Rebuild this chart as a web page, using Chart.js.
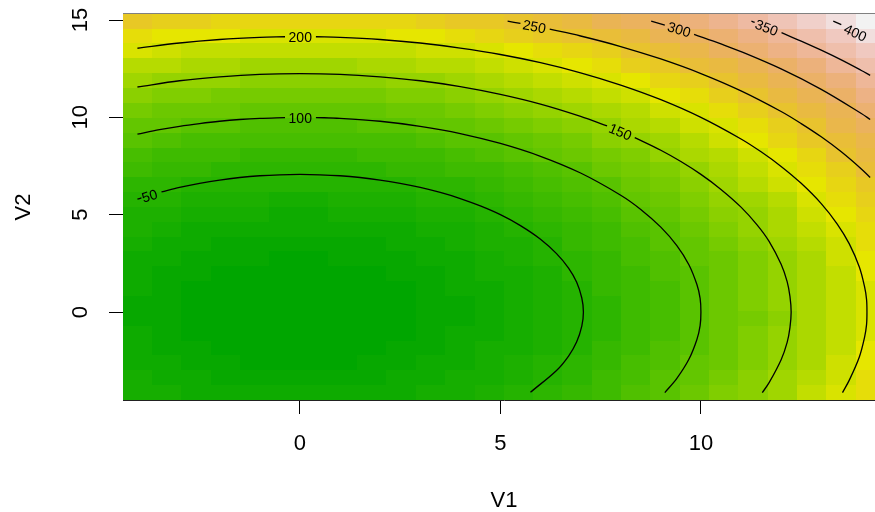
<!DOCTYPE html>
<html>
<head>
<meta charset="utf-8">
<title>V1 V2 contour</title>
<script src="https://cdn.jsdelivr.net/npm/chart.js@4"></script>
<style>
html, body { margin: 0; padding: 0; background: #fff; overflow: hidden; }
canvas { display: block; }
</style>
</head>
<body>
<canvas id="plot" width="885" height="512"></canvas>
<script>
const xTicks = [0, 5, 10];
const yTicks = [0, 5, 10, 15];

// centres of the image cells, left to right and bottom to top
const cellX = [-4.05, -3.32, -2.59, -1.86, -1.13, -0.40, 0.33, 1.06, 1.79, 2.53, 3.26, 3.99, 4.72, 5.45, 6.18, 6.91, 7.64, 8.37, 9.10, 9.84, 10.57, 11.30, 12.03, 12.76, 13.49, 14.22];
const cellY = [-4.14, -3.38, -2.61, -1.85, -1.09, -0.33, 0.44, 1.20, 1.96, 2.73, 3.49, 4.25, 5.02, 5.78, 6.54, 7.31, 8.07, 8.83, 9.60, 10.36, 11.12, 11.89, 12.65, 13.41, 14.18, 14.94];

// one row per cellY
const cellValues = [
  [33.5, 28.1, 23.8, 20.6, 18.4, 17.3, 17.2, 18.2, 20.3, 23.5, 27.7, 33.0, 39.4, 46.8, 55.3, 64.8, 75.5, 87.2, 99.9, 113.9, 128.8, 144.8, 161.8, 179.9, 199.1, 219.3],
  [27.8, 22.4, 18.1, 14.9, 12.7, 11.6, 11.5, 12.5, 14.6, 17.8, 22.0, 27.3, 33.7, 41.1, 49.6, 59.1, 69.8, 81.5, 94.2, 108.2, 123.1, 139.1, 156.1, 174.2, 193.4, 213.6],
  [23.2, 17.8, 13.5, 10.3, 8.1, 7.0, 6.9, 7.9, 10.0, 13.2, 17.4, 22.7, 29.1, 36.5, 45.0, 54.5, 65.2, 76.9, 89.6, 103.6, 118.5, 134.5, 151.5, 169.6, 188.8, 209.0],
  [19.8, 14.4, 10.1, 6.9, 4.7, 3.6, 3.5, 4.5, 6.6, 9.8, 14.0, 19.3, 25.7, 33.1, 41.6, 51.1, 61.8, 73.5, 86.2, 100.2, 115.1, 131.1, 148.1, 166.2, 185.4, 205.6],
  [17.6, 12.2, 7.9, 4.7, 2.5, 1.4, 1.3, 2.3, 4.4, 7.6, 11.8, 17.1, 23.5, 30.9, 39.4, 48.9, 59.6, 71.3, 84.0, 98.0, 112.9, 128.9, 145.9, 164.0, 183.2, 203.4],
  [16.5, 11.1, 6.8, 3.6, 1.4, 0.3, 0.2, 1.2, 3.3, 6.5, 10.7, 16.0, 22.4, 29.8, 38.3, 47.8, 58.5, 70.2, 82.9, 96.9, 111.8, 127.7, 144.8, 162.9, 182.1, 202.3],
  [16.6, 11.2, 6.9, 3.7, 1.5, 0.4, 0.3, 1.3, 3.4, 6.6, 10.8, 16.1, 22.5, 29.9, 38.4, 47.9, 58.6, 70.3, 83.0, 97.0, 111.9, 127.9, 144.9, 163.0, 182.2, 202.4],
  [17.8, 12.4, 8.1, 4.9, 2.7, 1.6, 1.5, 2.5, 4.6, 7.8, 12.0, 17.3, 23.7, 31.1, 39.6, 49.1, 59.8, 71.5, 84.2, 98.2, 113.1, 129.1, 146.1, 164.2, 183.4, 203.6],
  [20.2, 14.8, 10.5, 7.3, 5.1, 4.0, 3.9, 4.9, 7.0, 10.2, 14.4, 19.7, 26.1, 33.5, 42.0, 51.5, 62.2, 73.9, 86.6, 100.6, 115.5, 131.5, 148.5, 166.6, 185.8, 206.0],
  [23.9, 18.5, 14.2, 11.0, 8.8, 7.7, 7.6, 8.6, 10.7, 13.9, 18.1, 23.4, 29.8, 37.2, 45.7, 55.2, 65.9, 77.6, 90.3, 104.3, 119.2, 135.2, 152.2, 170.3, 189.5, 209.7],
  [28.6, 23.2, 18.9, 15.7, 13.5, 12.4, 12.3, 13.3, 15.4, 18.6, 22.8, 28.1, 34.5, 41.9, 50.4, 59.9, 70.6, 82.3, 95.0, 109.0, 123.9, 139.9, 156.9, 175.0, 194.2, 214.4],
  [34.5, 29.1, 24.8, 21.6, 19.4, 18.3, 18.2, 19.2, 21.3, 24.5, 28.7, 34.0, 40.4, 47.8, 56.3, 65.8, 76.5, 88.2, 100.9, 114.9, 129.8, 145.8, 162.8, 180.9, 200.1, 220.3],
  [41.6, 36.2, 31.9, 28.7, 26.5, 25.4, 25.3, 26.3, 28.4, 31.6, 35.8, 41.1, 47.5, 54.9, 63.4, 72.9, 83.6, 95.3, 108.0, 122.0, 136.9, 152.9, 169.9, 188.0, 207.2, 227.4],
  [49.8, 44.4, 40.1, 36.9, 34.7, 33.6, 33.5, 34.5, 36.6, 39.8, 44.0, 49.3, 55.7, 63.1, 71.6, 81.1, 91.8, 103.5, 116.2, 130.2, 145.1, 161.1, 178.1, 196.2, 215.4, 235.6],
  [59.2, 53.8, 49.5, 46.3, 44.1, 43.0, 42.9, 43.9, 46.0, 49.2, 53.4, 58.7, 65.1, 72.5, 81.0, 90.5, 101.2, 112.9, 125.6, 139.6, 154.5, 170.5, 187.5, 205.6, 224.8, 245.0],
  [69.8, 64.4, 60.1, 56.9, 54.7, 53.6, 53.5, 54.5, 56.6, 59.8, 64.0, 69.3, 75.7, 83.1, 91.6, 101.1, 111.8, 123.5, 136.2, 150.2, 165.1, 181.1, 198.1, 216.2, 235.4, 255.6],
  [81.5, 76.1, 71.8, 68.6, 66.4, 65.3, 65.2, 66.2, 68.3, 71.5, 75.7, 81.0, 87.4, 94.8, 103.3, 112.8, 123.5, 135.2, 147.9, 161.9, 176.8, 192.8, 209.8, 227.9, 247.1, 267.3],
  [94.4, 89.0, 84.7, 81.5, 79.3, 78.2, 78.1, 79.1, 81.2, 84.4, 88.6, 93.9, 100.3, 107.7, 116.2, 125.7, 136.4, 148.1, 160.8, 174.8, 189.7, 205.7, 222.7, 240.8, 260.0, 280.2],
  [108.6, 103.2, 98.9, 95.7, 93.5, 92.4, 92.3, 93.3, 95.4, 98.6, 102.8, 108.1, 114.5, 121.9, 130.4, 139.9, 150.6, 162.3, 175.0, 189.0, 203.9, 219.9, 236.9, 255.0, 274.2, 294.4],
  [123.7, 118.3, 114.0, 110.8, 108.6, 107.5, 107.4, 108.4, 110.5, 113.7, 117.9, 123.2, 129.6, 137.0, 145.5, 155.0, 165.7, 177.4, 190.1, 204.1, 219.0, 235.0, 252.0, 270.1, 289.3, 309.5],
  [140.1, 134.7, 130.4, 127.2, 125.0, 123.9, 123.8, 124.8, 126.9, 130.1, 134.3, 139.6, 146.0, 153.4, 161.9, 171.4, 182.1, 193.8, 206.5, 220.5, 235.4, 251.4, 268.4, 286.5, 305.7, 325.9],
  [157.8, 152.4, 148.1, 144.9, 142.7, 141.6, 141.5, 142.5, 144.6, 147.8, 152.0, 157.3, 163.7, 171.1, 179.6, 189.1, 199.8, 211.5, 224.2, 238.2, 253.1, 269.1, 286.1, 304.2, 323.4, 343.6],
  [176.4, 171.0, 166.7, 163.5, 161.3, 160.2, 160.1, 161.1, 163.2, 166.4, 170.6, 175.9, 182.3, 189.7, 198.2, 207.7, 218.4, 230.1, 242.8, 256.8, 271.7, 287.7, 304.7, 322.8, 342.0, 362.2],
  [196.2, 190.8, 186.5, 183.3, 181.1, 180.0, 179.9, 180.9, 183.0, 186.2, 190.4, 195.7, 202.1, 209.5, 218.0, 227.5, 238.2, 249.9, 262.6, 276.6, 291.5, 307.5, 324.5, 342.6, 361.8, 382.0],
  [217.5, 212.1, 207.8, 204.6, 202.4, 201.3, 201.2, 202.2, 204.3, 207.5, 211.7, 217.0, 223.4, 230.8, 239.3, 248.8, 259.5, 271.2, 283.9, 297.9, 312.8, 328.8, 345.8, 363.9, 383.1, 403.3],
  [239.6, 234.2, 230.1, 226.7, 224.5, 223.4, 223.3, 224.3, 226.4, 229.6, 233.8, 239.1, 245.5, 252.9, 261.4, 270.9, 281.6, 293.3, 306.0, 320.0, 334.9, 350.9, 367.9, 386.0, 405.2, 425.4]
];

// contour lines, null = gap left for the label
const line50X = [-4.05, -3.95, null, -3.45, -3, -2.5, -2, -1.5, -1, -0.5, 0, 0.5, 1, 1.5, 2, 2.5, 3, 3.5, 4, 4.5, 5, 5.5, 6, 6.4, 6.7, 6.9, 7.03, 7.07, 7.03, 6.9, 6.7, 6.4, 5.75];
const line50Y = [5.80, 5.86, null, 6.17, 6.40, 6.61, 6.78, 6.91, 7.00, 7.05, 7.07, 7.05, 7.00, 6.91, 6.78, 6.61, 6.40, 6.14, 5.83, 5.45, 5.00, 4.44, 3.74, 3.00, 2.26, 1.54, 0.72, 0, -0.72, -1.54, -2.26, -3.00, -4.12];
const line100X = [-4.05, -3.5, -3, -2.5, -2, -1.5, -1, -0.37, null, 0.4, 1, 2, 3, 4, 5, 6, 7, 8, 8.5, 9, 9.4, 9.7, 9.9, 9.98, 10, 9.98, 9.9, 9.7, 9.4, 9.1];
const line100Y = [9.14, 9.37, 9.54, 9.68, 9.80, 9.89, 9.95, 9.99, null, 9.99, 9.95, 9.80, 9.54, 9.17, 8.66, 8.00, 7.14, 6.00, 5.27, 4.36, 3.41, 2.43, 1.41, 0.7, 0, -0.7, -1.41, -2.43, -3.41, -4.14];
const line150X = [-4.05, -3, -2, -1, 0, 1, 2, 3, 4, 5, 6, 7, 7.66, null, 8.35, 9, 9.5, 10, 10.5, 11, 11.4, 11.7, 12, 12.15, 12.22, 12.25, 12.22, 12.15, 12, 11.7, 11.53];
const line150Y = [11.56, 11.88, 12.08, 12.21, 12.25, 12.21, 12.08, 11.88, 11.58, 11.18, 10.68, 10.05, 9.56, null, 8.96, 8.31, 7.73, 7.07, 6.30, 5.39, 4.48, 3.63, 2.45, 1.56, 0.8, 0, -0.8, -1.56, -2.45, -3.63, -4.14];
const line200X = [-4.05, -3, -2, -1, -0.37, null, 0.4, 1, 2, 3, 4, 5, 6, 7, 8, 9, 10, 11, 11.5, 12, 12.5, 13, 13.4, 13.7, 13.95, 14.08, 14.13, 14.14, 14.13, 14.08, 13.95, 13.7, 13.53];
const line200Y = [13.55, 13.82, 14.0, 14.11, 14.14, null, 14.14, 14.11, 14.0, 13.82, 13.56, 13.23, 12.81, 12.29, 11.66, 10.91, 10.0, 8.89, 8.23, 7.48, 6.61, 5.57, 4.52, 3.5, 2.31, 1.3, 0.65, 0, -0.65, -1.3, -2.31, -3.5, -4.14];
const line250X = [5.18, 5.5, null, 6.23, 7, 8, 9, 10, 11, 12, 12.5, 13, 13.5, 14, 14.22];
const line250Y = [14.94, 14.83, null, 14.53, 14.18, 13.64, 13.0, 12.25, 11.36, 10.30, 9.68, 9.0, 8.23, 7.35, 6.91];
const line300X = [8.76, 9.1, null, 9.83, 10.5, 11, 12, 13, 14, 14.22];
const line300Y = [14.94, 14.74, null, 14.26, 13.77, 13.38, 12.49, 11.44, 10.2, 9.89];
const line350X = [11.26, 11.34, null, 12.01, 12.5, 13, 13.5, 14, 14.22];
const line350Y = [14.94, 14.88, null, 14.35, 13.92, 13.45, 12.95, 12.41, 12.16];
const line400X = [13.3, 13.5];
const line400Y = [14.94, 14.76];

const contourLabels = ['50', '100', '150', '200', '250', '300', '350', '400'];
const contourLabelX = [-3.74, 0.01, 7.98, 0.01, 5.84, 9.45, 11.63, 13.84];
const contourLabelY = [5.92, 9.92, 9.21, 14.07, 14.62, 14.46, 14.56, 14.3];
const contourLabelAngle = [-17, 0, 23, 0, 11, 17, 21, 25];

const FONT = '"Liberation Sans", Arial, sans-serif';
const LEVELS = 50;
const LEVEL_WIDTH = 8.52;

function hsvColor(h, s, v) {
  const k = n => (n + h * 6) % 6;
  const f = n => v - v * s * Math.max(0, Math.min(k(n), 4 - k(n), 1));
  return `rgb(${Math.round(f(5) * 255)},${Math.round(f(3) * 255)},${Math.round(f(1) * 255)})`;
}

// same ramp as R terrain.colors(50)
function terrainColor(level) {
  const half = LEVELS / 2;
  if (level < half) {
    const t = level / (half - 1);
    return hsvColor(4 / 12 - t * 2 / 12, 1, 0.65 + t * 0.25);
  }
  const t = (level - half + 1) / (LEVELS - half);
  return hsvColor(2 / 12 - t * 2 / 12, 1 - t, 0.9 + t * 0.05);
}

function toPoints(xs, ys) {
  return xs.map((x, i) => ({ x: x, y: ys[i] }));
}

function contourSet(xs, ys) {
  return {
    data: toPoints(xs, ys),
    showLine: true,
    spanGaps: false,
    tension: 0.35,
    borderColor: '#000',
    borderWidth: 1.3,
    pointRadius: 0
  };
}

const cellPoints = [];
cellY.forEach((y, r) => {
  cellX.forEach((x, c) => cellPoints.push({ x: x, y: y, v: cellValues[r][c], c: c, r: r }));
});

const heatmapPlugin = {
  id: 'heatmap',
  beforeDatasetsDraw(chart) {
    const { ctx, scales } = chart;
    const edge = (list, i, scale) => {
      if (i <= 0) return scale.min;
      if (i >= list.length) return scale.max;
      return (list[i - 1] + list[i]) / 2;
    };
    ctx.save();
    chart.data.datasets[0].data.forEach(p => {
      const x0 = Math.round(scales.x.getPixelForValue(edge(cellX, p.c, scales.x)));
      const x1 = Math.round(scales.x.getPixelForValue(edge(cellX, p.c + 1, scales.x)));
      const y0 = Math.round(scales.y.getPixelForValue(edge(cellY, p.r + 1, scales.y)));
      const y1 = Math.round(scales.y.getPixelForValue(edge(cellY, p.r, scales.y)));
      ctx.fillStyle = terrainColor(Math.min(LEVELS - 1, Math.floor(p.v / LEVEL_WIDTH)));
      ctx.fillRect(x0, y0, x1 - x0, y1 - y0);
    });
    // thin grey box edge along the top
    ctx.fillStyle = '#808080';
    ctx.fillRect(chart.chartArea.left, chart.chartArea.top - 1, chart.chartArea.width, 1);
    ctx.restore();
  },
  afterDatasetsDraw(chart) {
    const { ctx, scales } = chart;
    ctx.save();
    ctx.fillStyle = '#000';
    ctx.font = '14px ' + FONT;
    ctx.textAlign = 'center';
    ctx.textBaseline = 'middle';
    contourLabels.forEach((txt, i) => {
      ctx.save();
      ctx.translate(scales.x.getPixelForValue(contourLabelX[i]), scales.y.getPixelForValue(contourLabelY[i]));
      ctx.rotate(contourLabelAngle[i] * Math.PI / 180);
      ctx.fillText(txt, 0, 0);
      ctx.restore();
    });
    ctx.restore();
  }
};

new Chart(document.getElementById('plot').getContext('2d'), {
  type: 'scatter',
  data: {
    datasets: [
      { data: cellPoints, pointRadius: 0, showLine: false },
      contourSet(line50X, line50Y),
      contourSet(line100X, line100Y),
      contourSet(line150X, line150Y),
      contourSet(line200X, line200Y),
      contourSet(line250X, line250Y),
      contourSet(line300X, line300Y),
      contourSet(line350X, line350Y),
      contourSet(line400X, line400Y)
    ]
  },
  options: {
    responsive: false,
    animation: false,
    events: [],
    layout: { padding: { top: 14, right: 0, bottom: 0, left: 0 } },
    plugins: { legend: { display: false }, tooltip: { enabled: false } },
    scales: {
      x: {
        type: 'linear',
        min: -4.41,
        max: 14.59,
        afterFit: s => { s.height = 112; s.paddingLeft = 0; s.paddingRight = 0; },
        afterBuildTicks: s => { s.ticks = xTicks.map(v => ({ value: v })); },
        grid: { drawOnChartArea: false, tickLength: 14, color: '#000' },
        border: { display: true, color: '#222', width: 1 },
        ticks: {
          autoSkip: false,
          maxRotation: 0,
          padding: 17,
          color: '#000',
          font: { family: FONT, size: 22 },
          callback: v => String(v)
        },
        title: { display: true, text: 'V1', color: '#000', font: { family: FONT, size: 22, lineHeight: 1 }, padding: 0 }
      },
      y: {
        type: 'linear',
        min: -4.52,
        max: 15.31,
        afterFit: s => { s.width = 123; s.paddingTop = 0; s.paddingBottom = 0; },
        afterBuildTicks: s => { s.ticks = yTicks.map(v => ({ value: v })); },
        grid: { drawOnChartArea: false, tickLength: 14, color: '#000' },
        border: { display: false },
        ticks: {
          autoSkip: false,
          minRotation: 90,
          maxRotation: 90,
          crossAlign: 'center',
          padding: 16,
          color: '#000',
          font: { family: FONT, size: 22 },
          callback: v => String(v)
        },
        title: { display: true, text: 'V2', color: '#000', font: { family: FONT, size: 22 }, padding: { top: 11, bottom: 0 } }
      }
    }
  },
  plugins: [heatmapPlugin]
});
</script>
</body>
</html>
